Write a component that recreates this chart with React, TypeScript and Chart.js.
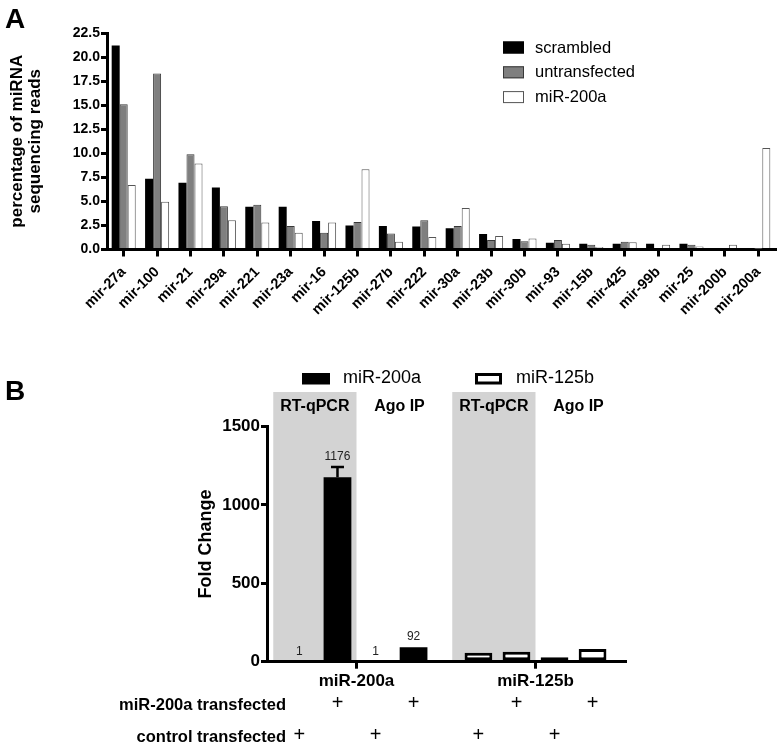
import React, { useEffect, useRef } from 'react';
import { Chart, registerables } from 'chart.js';

Chart.register(...registerables);

const FONT = '"Liberation Sans", Arial, Helvetica, sans-serif';

// ---------- Panel A data ----------
const miRNAs = [
  'mir-27a', 'mir-100', 'mir-21', 'mir-29a', 'mir-221', 'mir-23a', 'mir-16', 'mir-125b', 'mir-27b', 'mir-222',
  'mir-30a', 'mir-23b', 'mir-30b', 'mir-93', 'mir-15b', 'mir-425', 'mir-99b', 'mir-25', 'mir-200b', 'mir-200a',
];
const scrambled = [21.2, 7.35, 6.95, 6.45, 4.45, 4.45, 2.95, 2.5, 2.45, 2.4, 2.2, 1.6, 1.1, 0.7, 0.6, 0.6, 0.6, 0.6, 0.05, 0.1];
const untransfected = [15.1, 18.3, 9.9, 4.5, 4.65, 2.45, 1.75, 2.85, 1.65, 3.05, 2.45, 1.0, 0.85, 1.0, 0.5, 0.8, 0.15, 0.5, 0.15, 0.05];
const miR200aTransfected = [6.7, 4.95, 8.95, 3.05, 2.8, 1.75, 2.8, 8.35, 0.8, 1.3, 4.3, 1.4, 1.15, 0.6, 0.25, 0.75, 0.5, 0.3, 0.5, 10.55];
const seriesNamesA = ['scrambled', 'untransfected', 'miR-200a'];
const yMaxA = 22.5;
const yStepA = 2.5;
const yTitleA = ['percentage of miRNA', 'sequencing reads'];

// ---------- Panel B data ----------
const targetsB = ['miR-200a', 'miR-125b'];
const rtqpcrControl = [1, 57];
const rtqpcrMiR200a = [1176, 64];
const agoIPControl = [1, 28];
const agoIPMiR200a = [92, 81];
const rtqpcrMiR200aError = [66, 0];
const assayHeaders = ['RT-qPCR', 'Ago IP'];
const legendNamesB = ['miR-200a', 'miR-125b'];
const treatmentLabels = ['miR-200a transfected', 'control transfected'];
const treatmentDatasets = [[1, 3], [0, 2]];
const yMaxB = 1500;
const yStepB = 500;
const yTitleB = 'Fold Change';

const panelAPlugin = {
  id: 'panelA',
  afterDraw(chart: any) {
    const ctx = chart.ctx;
    ctx.save();
    chart.data.datasets.forEach((ds: any, i: number) => {
      const y = 41.5 + i * 24.8;
      ctx.fillStyle = ds.backgroundColor;
      ctx.fillRect(503, y, 21, 12);
      ctx.strokeStyle = ds.borderColor;
      ctx.lineWidth = 1;
      ctx.strokeRect(503.5, y + 0.5, 20, 11);
      ctx.fillStyle = '#000';
      ctx.font = `16.5px ${FONT}`;
      ctx.textBaseline = 'middle';
      ctx.textAlign = 'left';
      ctx.fillText(ds.label, 535, y + 6.5);
    });
    ctx.font = `bold 28px ${FONT}`;
    ctx.textBaseline = 'alphabetic';
    ctx.fillText('A', 5, 28);
    ctx.restore();
  },
};

const panelBPlugin = {
  id: 'panelB',
  beforeDraw(chart: any) {
    const { ctx, chartArea } = chart;
    const x = chart.scales.x;
    const catW = (x.right - x.left) / targetsB.length;
    ctx.save();
    ctx.fillStyle = '#d3d3d3';
    targetsB.forEach((_, i) => {
      const cx = x.getPixelForValue(i);
      ctx.fillRect(cx - catW * 0.465, 32, catW * 0.465, chartArea.bottom - 32);
    });
    ctx.restore();
  },
  afterDatasetsDraw(chart: any) {
    const ctx = chart.ctx;
    const y = chart.scales.y;
    const meta = chart.getDatasetMeta(1);
    ctx.save();
    ctx.strokeStyle = '#000';
    ctx.lineWidth = 2.5;
    rtqpcrMiR200aError.forEach((err, i) => {
      if (!err) return;
      const bar = meta.data[i];
      const top = y.getPixelForValue(rtqpcrMiR200a[i] + err);
      ctx.beginPath();
      ctx.moveTo(bar.x, bar.y);
      ctx.lineTo(bar.x, top);
      ctx.moveTo(bar.x - 6.5, top);
      ctx.lineTo(bar.x + 6.5, top);
      ctx.stroke();
    });
    // value labels for the miR-200a target
    ctx.fillStyle = '#222';
    ctx.font = `12px ${FONT}`;
    ctx.textAlign = 'center';
    ctx.textBaseline = 'alphabetic';
    chart.data.datasets.forEach((ds: any, d: number) => {
      const v = ds.data[0];
      const err = d === 1 ? rtqpcrMiR200aError[0] : 0;
      const bar = chart.getDatasetMeta(d).data[0];
      ctx.fillText(String(v), bar.x, y.getPixelForValue(v + err) - 7);
    });
    ctx.restore();
  },
  afterDraw(chart: any) {
    const ctx = chart.ctx;
    const x = chart.scales.x;
    const catW = (x.right - x.left) / targetsB.length;
    ctx.save();
    // panel letter
    ctx.fillStyle = '#000';
    ctx.font = `bold 28px ${FONT}`;
    ctx.textAlign = 'left';
    ctx.textBaseline = 'alphabetic';
    ctx.fillText('B', 5, 40);
    // legend
    const legendX = [302, 475];
    legendNamesB.forEach((name, i) => {
      const lx = legendX[i];
      if (i === 0) {
        ctx.fillStyle = '#000';
        ctx.fillRect(lx, 13, 28, 11.5);
      } else {
        ctx.strokeStyle = '#000';
        ctx.lineWidth = 3;
        ctx.strokeRect(lx + 1.5, 14.5, 24, 8.5);
      }
      ctx.fillStyle = '#000';
      ctx.font = `18px ${FONT}`;
      ctx.textBaseline = 'middle';
      ctx.fillText(name, lx + 41, 18.5);
    });
    // assay headers
    ctx.font = `bold 16px ${FONT}`;
    ctx.textAlign = 'center';
    ctx.textBaseline = 'middle';
    targetsB.forEach((_, i) => {
      const cx = x.getPixelForValue(i);
      ctx.fillText(assayHeaders[0], cx - catW * 0.233, 47);
      ctx.fillText(assayHeaders[1], cx + catW * 0.24, 47);
    });
    // treatment rows
    const rowY = [345, 377];
    treatmentLabels.forEach((label, r) => {
      ctx.font = `bold 16.5px ${FONT}`;
      ctx.textAlign = 'right';
      ctx.fillText(label, 286, rowY[r]);
      ctx.font = `20px ${FONT}`;
      ctx.textAlign = 'center';
      treatmentDatasets[r].forEach((d) => {
        chart.getDatasetMeta(d).data.forEach((bar: any) => {
          ctx.fillText('+', bar.x, rowY[r] - 2);
        });
      });
    });
    ctx.restore();
  },
};

export default function App() {
  const refA = useRef<HTMLCanvasElement>(null);
  const refB = useRef<HTMLCanvasElement>(null);

  useEffect(() => {
    const tickFont = (size: number) => ({ family: FONT, size, weight: 'bold' as const });

    const chartA = new Chart(refA.current!, {
      type: 'bar',
      data: {
        labels: miRNAs,
        datasets: [
          { label: seriesNamesA[0], data: scrambled, backgroundColor: '#000000', borderColor: '#000000', borderWidth: 0 },
          { label: seriesNamesA[1], data: untransfected, backgroundColor: '#7f7f7f', borderColor: '#383838', borderWidth: 1 },
          { label: seriesNamesA[2], data: miR200aTransfected, backgroundColor: '#ffffff', borderColor: '#555555', borderWidth: 1 },
        ],
      },
      options: {
        responsive: false,
        animation: false,
        events: [],
        layout: { padding: { left: 0, right: 7, top: 33, bottom: 0 } },
        datasets: { bar: { categoryPercentage: 0.72, barPercentage: 1.0 } },
        plugins: { legend: { display: false }, tooltip: { enabled: false } },
        scales: {
          x: {
            grid: { display: true, drawOnChartArea: false, drawTicks: true, offset: false, tickLength: 7, lineWidth: 3, tickWidth: 3, tickColor: '#000', color: '#000' },
            border: { display: true, width: 3, color: '#000' },
            ticks: { color: '#000', font: tickFont(14.5), minRotation: 45, maxRotation: 45, autoSkip: false, padding: 7 },
            afterFit: (s: any) => { s.height = 110.5; },
          },
          y: {
            min: 0,
            max: yMaxA,
            grid: { display: true, drawOnChartArea: false, drawTicks: true, tickLength: 6, lineWidth: 3, tickWidth: 3, tickColor: '#000', color: '#000' },
            border: { display: true, width: 3, color: '#000' },
            ticks: { stepSize: yStepA, color: '#000', font: tickFont(14), padding: 1, callback: (v: any) => Number(v).toFixed(1) },
            title: { display: true, text: yTitleA, color: '#000', font: { family: FONT, size: 17, weight: 'bold', lineHeight: 1.1 }, padding: { top: 7.5, bottom: 0 } },
            afterFit: (s: any) => { s.width = 107; },
          },
        },
      },
      plugins: [panelAPlugin],
    } as any);

    const colorFor = (ctx: any) => (ctx.dataIndex === 0 ? '#000000' : '#ffffff');
    const widthFor = (ctx: any) => (ctx.dataIndex === 0 ? 0 : 3);
    const mkDs = (label: string, data: number[]) => ({
      label, data, backgroundColor: colorFor, borderColor: '#000000', borderWidth: widthFor, borderSkipped: false,
    });

    const chartB = new Chart(refB.current!, {
      type: 'bar',
      data: {
        labels: targetsB,
        datasets: [
          mkDs('RT-qPCR control', rtqpcrControl),
          mkDs('RT-qPCR miR-200a', rtqpcrMiR200a),
          mkDs('Ago IP control', agoIPControl),
          mkDs('Ago IP miR-200a', agoIPMiR200a),
        ],
      },
      options: {
        responsive: false,
        animation: false,
        events: [],
        layout: { padding: { left: 0, right: 157, top: 66.5, bottom: 0 } },
        datasets: { bar: { categoryPercentage: 0.85, barPercentage: 0.73 } },
        plugins: { legend: { display: false }, tooltip: { enabled: false } },
        scales: {
          x: {
            grid: { display: true, drawOnChartArea: false, drawTicks: true, offset: false, tickLength: 7, lineWidth: 3, tickWidth: 3, tickColor: '#000', color: '#000' },
            border: { display: true, width: 3, color: '#000' },
            ticks: { color: '#000', font: tickFont(17), padding: 2 },
            afterFit: (s: any) => { s.height = 84.3; },
          },
          y: {
            min: 0,
            max: yMaxB,
            grid: { display: true, drawOnChartArea: false, drawTicks: true, tickLength: 6, lineWidth: 3, tickWidth: 3, tickColor: '#000', color: '#000' },
            border: { display: true, width: 3, color: '#000' },
            ticks: { stepSize: yStepB, color: '#000', font: tickFont(17), padding: 1, callback: (v: any) => String(v) },
            title: { display: true, text: yTitleB, color: '#000', font: { family: FONT, size: 18, weight: 'bold', lineHeight: 1.2 }, padding: { top: 195, bottom: 0 } },
            afterFit: (s: any) => { s.width = 267; },
          },
        },
      },
      plugins: [panelBPlugin],
    } as any);

    return () => {
      chartA.destroy();
      chartB.destroy();
    };
  }, []);

  return (
    <div style={{ position: 'absolute', left: 0, top: 0, width: 782, height: 746, background: '#fff' }}>
      <canvas ref={refA} width={782} height={360} style={{ position: 'absolute', left: 0, top: 0, width: 782, height: 360 }} />
      <canvas ref={refB} width={782} height={386} style={{ position: 'absolute', left: 0, top: 360, width: 782, height: 386 }} />
    </div>
  );
}
